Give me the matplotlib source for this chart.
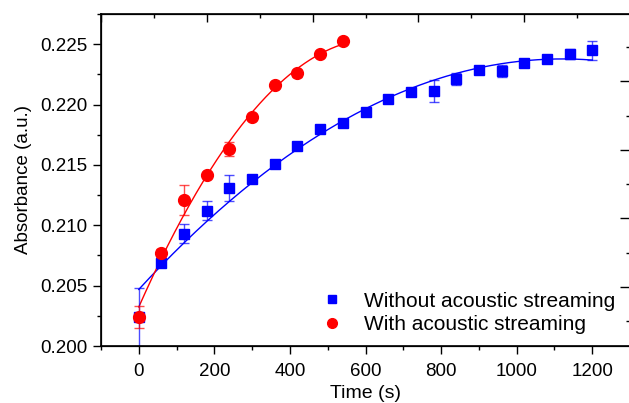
import numpy as np
import matplotlib.pyplot as plt
from matplotlib.lines import Line2D
from matplotlib.ticker import MultipleLocator, NullFormatter

plt.rcParams['font.family'] = ['Liberation Sans', 'DejaVu Sans']

# datos
t_sin = [0, 60, 120, 180, 240, 300, 360, 420, 480, 540, 600, 660, 720, 780,
         840, 900, 960, 1020, 1080, 1140, 1200]
abs_sin = [0.2024, 0.2069, 0.2093, 0.2112, 0.2131, 0.2138, 0.2151, 0.2166,
           0.2180, 0.2185, 0.2194, 0.2205, 0.2210, 0.2211, 0.2221, 0.2229,
           0.2228, 0.2234, 0.2238, 0.2242, 0.2245]
err_sin = [0.0024, 0.0002, 0.0008, 0.0008, 0.0011, 0.0001, 0.0001, 0.0001,
           0.0003, 0.0001, 0.0001, 0.0001, 0.0002, 0.0009, 0.0005, 0.0001,
           0.0005, 0.0001, 0.0001, 0.0004, 0.0008]

t_con = [0, 60, 120, 180, 240, 300, 360, 420, 480, 540]
abs_con = [0.2024, 0.2077, 0.2121, 0.2142, 0.2163, 0.2190, 0.2216, 0.2226,
           0.2242, 0.2253]
err_con = [0.0009, 0.0003, 0.00125, 0.0001, 0.0006, 0.0002, 0.0001, 0.0003,
           0.0001, 0.0001]

azul = '#0000ff'
rojo = '#ff0000'

fig = plt.figure(figsize=(6.29, 4.03), dpi=100)
ax = fig.add_axes([0.1606, 0.1414, 0.8410, 0.8239])

# ajustes (polinomio de grado 2)
p_sin = np.polyfit(t_sin, abs_sin, 2)
p_con = np.polyfit(t_con, abs_con, 2)
xs = np.linspace(0, 1200, 200)
xc = np.linspace(0, 540, 200)
ax.plot(xs, np.polyval(p_sin, xs), color=azul, lw=1)
ax.plot(xc, np.polyval(p_con, xc), color=rojo, lw=1)

ax.errorbar(t_sin, abs_sin, yerr=err_sin, fmt='none', ecolor=azul, elinewidth=1,
            capsize=3.5, capthick=1, alpha=0.7)
ax.errorbar(t_con, abs_con, yerr=err_con, fmt='none', ecolor=rojo, elinewidth=1,
            capsize=3.5, capthick=1, alpha=0.7)
ax.plot(t_sin, abs_sin, 's', color=azul, ms=7.5, mec=azul)
ax.plot(t_con, abs_con, 'o', color=rojo, ms=8.5, mec=rojo)

ax.set_xlim(-100, 1300)
ax.set_ylim(0.200, 0.2275)
ax.xaxis.set_major_locator(MultipleLocator(200))
ax.xaxis.set_minor_locator(MultipleLocator(100))
ax.yaxis.set_major_locator(MultipleLocator(0.005))
ax.yaxis.set_minor_locator(MultipleLocator(0.0025))
ax.yaxis.set_major_formatter(plt.FormatStrFormatter('%.3f'))
ax.tick_params(which='major', direction='out', length=6, width=1, labelsize=13.5)
ax.tick_params(which='minor', direction='out', length=3, width=1)
ax.tick_params(axis='x', which='major', pad=6)
for s in ax.spines.values():
    s.set_linewidth(1.2)

# ejes secundarios (solo marcas hacia dentro)
top = ax.twiny()
top.set_xlim(0, 5)
top.xaxis.set_major_locator(MultipleLocator(1))
top.xaxis.set_minor_locator(MultipleLocator(0.5))
top.xaxis.set_major_formatter(NullFormatter())
top.tick_params(which='major', direction='in', length=6, width=1)
top.tick_params(which='minor', direction='in', length=3, width=1)

der = ax.twinx()
der.set_ylim(-0.86, 3.98)
der.yaxis.set_major_locator(MultipleLocator(1))
der.yaxis.set_minor_locator(MultipleLocator(0.5))
der.yaxis.set_major_formatter(NullFormatter())
der.tick_params(which='major', direction='in', length=7, width=1)
der.tick_params(which='minor', direction='in', length=3, width=1)

ax.set_xlabel('Time (s)', fontsize=14, labelpad=4)
ax.set_ylabel('Absorbance (a.u.)', fontsize=13.5, labelpad=6)

handles = [Line2D([], [], ls='none', marker='s', color=azul, ms=6),
           Line2D([], [], ls='none', marker='o', color=rojo, ms=7)]
ax.legend(handles, ['Without acoustic streaming', 'With acoustic streaming'],
          loc='lower right', bbox_to_anchor=(1.008, -0.02), frameon=False,
          fontsize=15, handletextpad=0.8, labelspacing=0.2, handlelength=1.5)

fig.savefig('out.png', dpi=100)
